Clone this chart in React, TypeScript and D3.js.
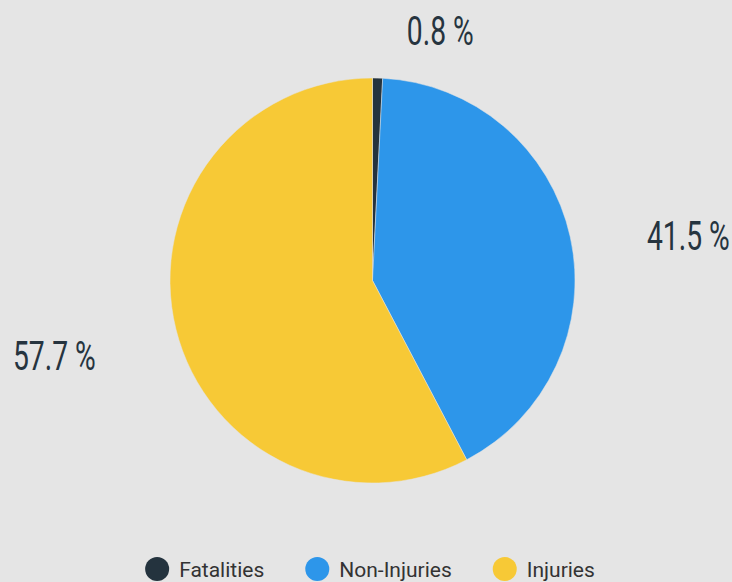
import React from "react";
import * as d3 from "d3";

const categories = ["Fatalities", "Non-Injuries", "Injuries"];
const values = [0.8, 41.5, 57.7];
const colors = ["#24333e", "#2d96ea", "#f7c936"];
const labels = ["0.8 %", "41.5 %", "57.7 %"];

const W = 732;
const H = 582;
const cx = 372.5;
const cy = 280.5;
const R = 202.5;

// label layout: anchor + nudges (layout only)
const labelLayout = [
  { anchor: "start", dx: 28, dy: 0, rad: 250 },
  { anchor: "end", dx: 79, dy: 17, rad: 285 },
  { anchor: "end", dx: 0, dy: 7, rad: 285 },
];

export default function App() {
  const pie = d3.pie<number>().sort(null).value((d) => d).startAngle(0).endAngle(2 * Math.PI);
  const arcs = pie(values);
  const arc = d3.arc<d3.PieArcDatum<number>>().innerRadius(0).outerRadius(R);

  // legend layout
  const legendY = 569;
  const font = "Roboto, 'Noto Sans', sans-serif";
  const legendSize = 21;
  const measure = (s: string) => {
    const c = document.createElement("canvas").getContext("2d")!;
    c.font = `${legendSize}px Roboto`;
    return c.measureText(s).width;
  };
  const itemW = categories.map((c) => 12 + 10 + measure(c) + 41 + 12);
  const totalW = d3.sum(itemW) - 41;
  let xStart = W / 2 - totalW / 2 + 4;
  const legendX: number[] = [];
  itemW.forEach((w) => {
    legendX.push(xStart + 12);
    xStart += w;
  });

  return (
    <svg width={W} height={H} style={{ display: "block", position: "absolute", left: 0, top: 0, background: "#e5e5e5" }}>
      <rect width={W} height={H} fill="#e5e5e5" />
      <g transform={`translate(${cx},${cy})`}>
        {arcs.map((a, i) => (
          <path key={i} d={arc(a) || ""} fill={colors[i]} stroke="#e5e5e5" strokeWidth={0.5} />
        ))}
        {arcs.map((a, i) => {
          const mid = (a.startAngle + a.endAngle) / 2;
          const L = labelLayout[i];
          const x = Math.sin(mid) * L.rad + L.dx;
          const y = -Math.cos(mid) * L.rad + L.dy;
          return (
            <text
              key={i}
              transform={`translate(${x},${y}) scale(0.69,1)`}
              textAnchor={L.anchor}
              dominantBaseline="central"
              fontFamily={font}
              fontSize={41}
              fill="#26343f"
            >
              {labels[i]}
            </text>
          );
        })}
      </g>
      <g>
        {categories.map((c, i) => (
          <g key={c}>
            <circle cx={legendX[i]} cy={legendY} r={12} fill={colors[i]} />
            <text x={legendX[i] + 22} y={legendY + 8} fontFamily={font} fontSize={legendSize} fill="#333">
              {c}
            </text>
          </g>
        ))}
      </g>
    </svg>
  );
}
